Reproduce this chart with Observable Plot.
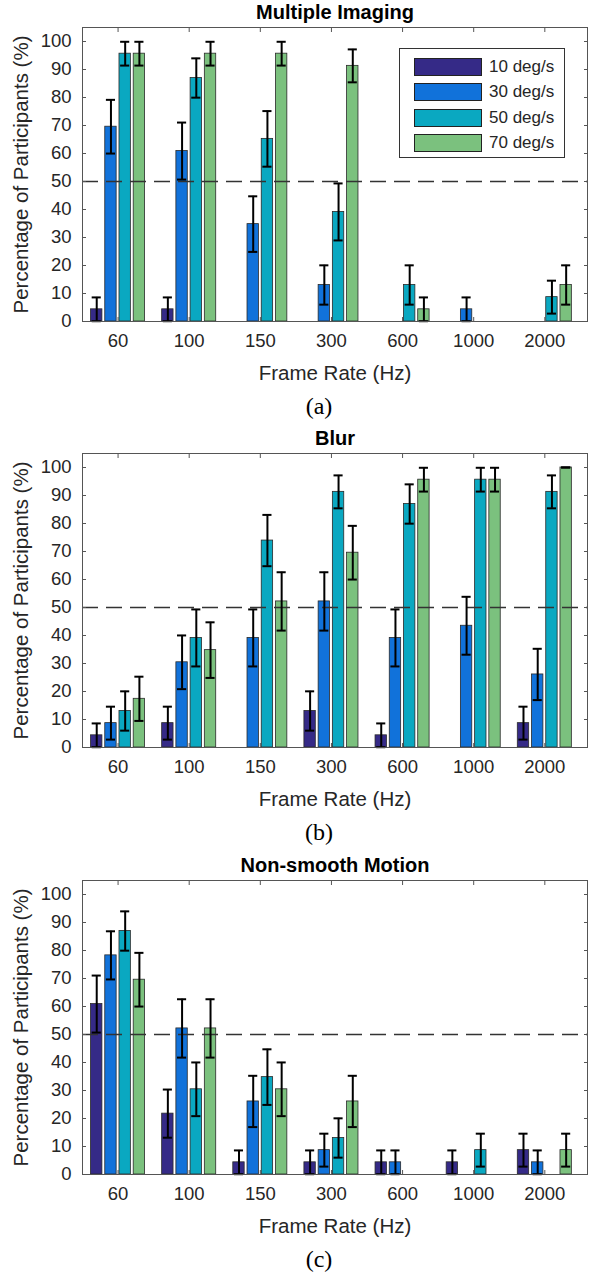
<!DOCTYPE html>
<html>
<head>
<meta charset="utf-8">
<script src="https://cdn.jsdelivr.net/npm/d3@7"></script>
<script src="https://cdn.jsdelivr.net/npm/@observablehq/plot@0.6"></script>
<style>
  html, body { margin: 0; padding: 0; background: #fff; }
  body { width: 592px; font-family: "Liberation Sans", Arial, sans-serif; }
  .panel { position: relative; width: 592px; }
  .panel svg { display: block; }
  .legend { position: absolute; left: 399px; top: 48px; width: 164px; height: 108px;
            border: 1px solid #333; background: #fff; }
  .legend .item { position: absolute; left: 14px; height: 19px; display: flex; align-items: center; }
  .legend .sw { width: 68px; height: 18px; box-sizing: border-box; border: 1px solid #222; }
  .legend .lbl { margin-left: 7px; font-size: 17px; color: #262626; white-space: nowrap; }
</style>
</head>
<body>
<div id="root"></div>
<script>
// ---------- data ----------
const frameRates = ["60", "100", "150", "300", "600", "1000", "2000"];
const speeds = ["10 deg/s", "30 deg/s", "50 deg/s", "70 deg/s"];
const speedColors = ["#352a87", "#1172da", "#0aa8c1", "#7bc17e"];
const panelTitles = ["Multiple Imaging", "Blur", "Non-smooth Motion"];
const panelCaptions = ["(a)", "(b)", "(c)"];
const xLabel = "Frame Rate (Hz)";
const yLabel = "Percentage of Participants (%)";
const yTicks = [0, 10, 20, 30, 40, 50, 60, 70, 80, 90, 100];
const chanceLevel = 50;

// rows = frame rates, columns = speeds (10, 30, 50, 70 deg/s)
const imagingValues = [
  [4.35, 69.57, 95.65, 95.65],
  [4.35, 60.87, 86.96, 95.65],
  [0, 34.78, 65.22, 95.65],
  [0, 13.04, 39.13, 91.30],
  [0, 0, 13.04, 4.35],
  [0, 4.35, 0, 0],
  [0, 0, 8.70, 13.04]
];
const imagingErrors = [
  [4.25, 9.59, 4.25, 4.25],
  [4.25, 10.18, 7.02, 4.25],
  [0, 9.93, 9.93, 4.25],
  [0, 7.02, 10.18, 5.88],
  [0, 0, 7.02, 4.25],
  [0, 4.25, 0, 0],
  [0, 0, 5.88, 7.02]
];
const blurValues = [
  [4.35, 8.70, 13.04, 17.39],
  [8.70, 30.43, 39.13, 34.78],
  [0, 39.13, 73.91, 52.17],
  [13.04, 52.17, 91.30, 69.57],
  [4.35, 39.13, 86.96, 95.65],
  [0, 43.48, 95.65, 95.65],
  [8.70, 26.09, 91.30, 100]
];
const blurErrors = [
  [4.25, 5.88, 7.02, 7.90],
  [5.88, 9.59, 10.18, 9.93],
  [0, 10.18, 9.16, 10.42],
  [7.02, 10.42, 5.88, 9.59],
  [4.25, 10.18, 7.02, 4.25],
  [0, 10.34, 4.25, 4.25],
  [5.88, 9.16, 5.88, 0]
];
const motionValues = [
  [60.87, 78.26, 86.96, 69.57],
  [21.74, 52.17, 30.43, 52.17],
  [4.35, 26.09, 34.78, 30.43],
  [4.35, 8.70, 13.04, 26.09],
  [4.35, 4.35, 0, 0],
  [4.35, 0, 8.70, 0],
  [8.70, 4.35, 0, 8.70]
];
const motionErrors = [
  [10.18, 8.60, 7.02, 9.59],
  [8.60, 10.42, 9.59, 10.42],
  [4.25, 9.16, 9.93, 9.59],
  [4.25, 5.88, 7.02, 9.16],
  [4.25, 4.25, 0, 0],
  [4.25, 0, 5.88, 0],
  [5.88, 4.25, 0, 5.88]
];

// ---------- layout ----------
const panels = [
  {values: imagingValues, errors: imagingErrors, height: 426, legend: true},
  {values: blurValues, errors: blurErrors, height: 427, legend: false},
  {values: motionValues, errors: motionErrors, height: 419, legend: false}
];
const BAR_STEP = 0.2, BAR_W = 0.16, CAP = 0.064;
const groupIdx = frameRates.map((_, i) => i + 1);
const fontSans = "Liberation Sans, Arial, sans-serif";

function buildRows(values, errors) {
  const rows = [];
  frameRates.forEach((rate, gi) => speeds.forEach((speed, si) => {
    rows.push({rate, speed, gi, si, value: values[gi][si], err: errors[gi][si]});
  }));
  return rows;
}
const cx = d => d.gi + 1 + (d.si - 1.5) * BAR_STEP;

const root = document.getElementById("root");
panels.forEach((p, k) => {
  const rows = buildRows(p.values, p.errors);
  const nz = rows.filter(d => d.value > 0);
  const plot = Plot.plot({
    width: 592,
    height: p.height,
    marginLeft: 82,
    marginRight: 5,
    marginTop: 27,
    marginBottom: p.height - 321,
    style: {fontFamily: fontSans, background: "#fff", color: "#262626", overflow: "visible"},
    x: {type: "linear", domain: [0.5, 7.6]},
    y: {domain: [0, 105]},
    color: {domain: speeds, range: speedColors},
    marks: [
      Plot.rectY(rows, {
        x1: d => cx(d) - BAR_W / 2, x2: d => cx(d) + BAR_W / 2,
        y1: 0, y2: "value", fill: "speed", stroke: "#2a2a2a", strokeWidth: 0.8
      }),
      Plot.ruleY([chanceLevel], {stroke: "#333", strokeWidth: 1.3, strokeDasharray: "16,8"}),
      Plot.ruleX(nz, {
        x: cx, y1: d => d.value - d.err, y2: d => d.value + d.err, stroke: "#000", strokeWidth: 2
      }),
      Plot.ruleY(nz, {
        x1: d => cx(d) - CAP, x2: d => cx(d) + CAP, y: d => d.value + d.err, stroke: "#000", strokeWidth: 2
      }),
      Plot.ruleY(nz, {
        x1: d => cx(d) - CAP, x2: d => cx(d) + CAP, y: d => d.value - d.err, stroke: "#000", strokeWidth: 2
      }),
      Plot.frame({stroke: "#555", strokeWidth: 1}),
      Plot.axisX(groupIdx, {anchor: "bottom", tickSize: -4, tickPadding: 16, stroke: "#555",
        tickFormat: i => frameRates[i - 1], fontSize: 18.5, fill: "#262626", label: null}),
      Plot.axisX(groupIdx, {anchor: "top", tickSize: -4, stroke: "#555", fill: "none",
        tickFormat: () => "", label: null}),
      Plot.axisY(yTicks, {anchor: "left", tickSize: -4, tickPadding: 15, stroke: "#555",
        fontSize: 18.5, fill: "#262626", label: null}),
      Plot.axisY(yTicks, {anchor: "right", tickSize: -4, stroke: "#555", fill: "none",
        tickFormat: () => "", label: null}),
      Plot.text([panelTitles[k]], {text: d => d, frameAnchor: "top", dy: -15,
        lineAnchor: "middle", textAnchor: "middle",
        fontSize: 20, fontWeight: "bold", fill: "#000"}),
      Plot.text([xLabel], {text: d => d, frameAnchor: "bottom", dy: 52,
        lineAnchor: "middle", textAnchor: "middle", fontSize: 20.5, fill: "#262626"}),
      Plot.text([yLabel], {text: d => d, frameAnchor: "left", dx: -61, rotate: -90,
        lineAnchor: "middle", textAnchor: "middle", fontSize: 20.5, fill: "#262626"}),
      Plot.text([panelCaptions[k]], {text: d => d, frameAnchor: "bottom", dy: 85, dx: -16,
        lineAnchor: "middle", textAnchor: "middle",
        fontSize: 24, fontFamily: "Liberation Serif, Times New Roman, serif", fill: "#000"})
    ]
  });
  const wrap = document.createElement("div");
  wrap.className = "panel";
  wrap.appendChild(plot);
  if (p.legend) {
    const lg = document.createElement("div");
    lg.className = "legend";
    speeds.forEach((s, i) => {
      const it = document.createElement("div");
      it.className = "item";
      it.style.top = (8 + i * 25.5) + "px";
      const sw = document.createElement("div");
      sw.className = "sw";
      sw.style.background = speedColors[i];
      const lb = document.createElement("span");
      lb.className = "lbl";
      lb.textContent = s;
      it.appendChild(sw);
      it.appendChild(lb);
      lg.appendChild(it);
    });
    wrap.appendChild(lg);
  }
  root.appendChild(wrap);
});
</script>
</body>
</html>
